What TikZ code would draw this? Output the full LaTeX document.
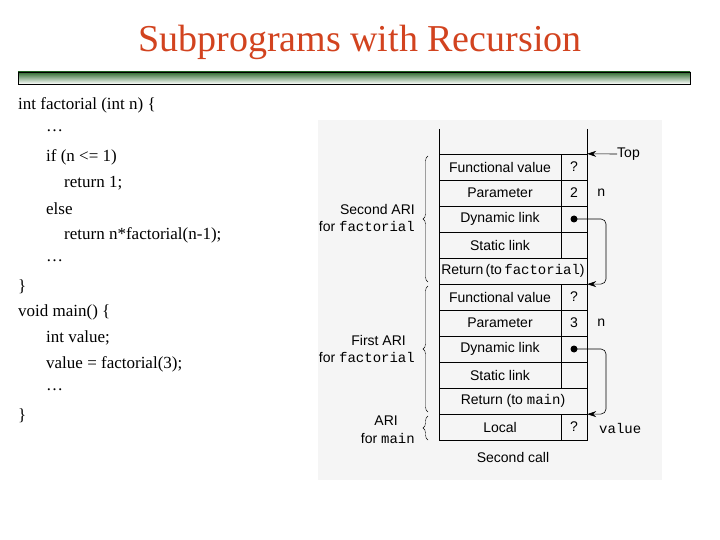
\documentclass[tikz,border=0pt]{standalone}
\usepackage{fontspec}
\setmainfont{Liberation Serif}
\newfontfamily\lsans{Liberation Sans}
\newfontfamily\lmono{Liberation Mono}
\usetikzlibrary{decorations.pathreplacing,arrows.meta}
\definecolor{titlered}{HTML}{D2431F}
\definecolor{dkgreen}{HTML}{2E6B2E}
\begin{document}
\begin{tikzpicture}[x=1pt,y=-1pt,
  code/.style={anchor=west,font=\fontsize{17}{20}\selectfont,inner sep=0},
  lc/.style={draw,minimum width=122pt,minimum height=26pt,inner sep=0,font=\lsans\fontsize{14}{16}\selectfont},
  rc/.style={draw,minimum width=26pt,minimum height=26pt,inner sep=0,font=\lsans\fontsize{14}{16}\selectfont},
  wc/.style={draw,minimum width=148pt,minimum height=26pt,inner sep=0,font=\lsans\fontsize{14}{16}\selectfont},
  lab/.style={font=\lsans\fontsize{14}{16}\selectfont,inner sep=0},
  mono/.style={font=\lmono\fontsize{14}{16}\selectfont,inner sep=0},
  brc/.style={decorate,decoration={brace,amplitude=5pt}},
  arr/.style={semithick,-{Stealth[length=9pt,width=6pt]}}]
\useasboundingbox (0,0) rectangle (720,540);
\fill[white] (0,0) rectangle (720,540);
\node[font=\fontsize{38}{42}\selectfont,text=titlered] (title) at (360,42) {Subprograms with Recursion};
\shade[top color=dkgreen,bottom color=white] (18,72) rectangle (690,84);
\draw[black] (18,72) rectangle (690,84);
\node[code] (c1) at (18,105) {int factorial (int n) \{};
\node[code] (c2) at (46,131) {…};
\node[code] (c3) at (46,157) {if (n <= 1)};
\node[code] (c4) at (64,183) {return 1;};
\node[code] (c5) at (46,209) {else};
\node[code] (c6) at (64,235) {return n*factorial(n-1);};
\node[code] (c7) at (46,261) {…};
\node[code] (c8) at (18,287) {\}};
\node[code] (c9) at (18,312) {void main() \{};
\node[code] (c10) at (46,338) {int value;};
\node[code] (c11) at (46,364) {value = factorial(3);};
\node[code] (c12) at (46,390) {…};
\node[code] (c13) at (18,416) {\}};
% figure panel
\fill[black!4] (318,120) rectangle (662,480);
\draw (439,129) -- (439,154) (587,129) -- (587,154);
\node[lc] (f2) at (500,167) {Functional value}; \node[rc] (f2v) at (574,167) {?};
\node[lc] (p2) at (500,193) {Parameter}; \node[rc] (p2v) at (574,193) {2};
\node[lc] (d2) at (500,219) {Dynamic link}; \node[rc] (d2v) at (574,219) {};
\node[lc] (s2) at (500,245) {Static link}; \node[rc] (s2v) at (574,245) {};
\node[wc] (r2) at (513,271) {Return\,(to\,{\lmono factorial})};
\node[lc] (f1) at (500,297) {Functional value}; \node[rc] (f1v) at (574,297) {?};
\node[lc] (p1) at (500,323) {Parameter}; \node[rc] (p1v) at (574,323) {3};
\node[lc] (d1) at (500,349) {Dynamic link}; \node[rc] (d1v) at (574,349) {};
\node[lc] (s1) at (500,375) {Static link}; \node[rc] (s1v) at (574,375) {};
\node[wc] (r1) at (513,401) {Return (to {\lmono main})};
\node[lc] (lo) at (500,427) {Local}; \node[rc] (lov) at (574,427) {?};
\node[mono,anchor=west] (n2) at (597,193) {n};
\node[mono,anchor=west] (n1) at (597,323) {n};
\node[mono,anchor=west] (val) at (599,428) {value};
\node[lab,anchor=west] (top) at (617,154) {Top};
\draw[arr] (top.west) -- (f2v.north east);
\fill (d2v.center) circle (3.5pt);
\fill (d1v.center) circle (3.5pt);
\draw[arr,rounded corners=5pt] (d2v.center) -- (606,219) -- (606,284) -- (r2.south east);
\draw[arr,rounded corners=5pt] (d1v.center) -- (606,349) -- (606,414) -- (r1.south east);
\draw[brc] (428,282) -- (428,156);
\draw[brc] (428,412) -- (428,286);
\draw[brc] (428,440) -- (428,416);
\node[lab,anchor=east] (a2) at (415,209) {Second ARI};
\node[lab,anchor=east] (a2b) at (415,226) {for {\lmono factorial}};
\node[lab,anchor=east] (a1) at (406,340) {First ARI};
\node[lab,anchor=east] (a1b) at (415,357) {for {\lmono factorial}};
\node[lab,anchor=east] (a0) at (398,421) {ARI};
\node[lab,anchor=east] (a0b) at (415,438) {for {\lmono main}};
\node[lab] (sc) at (513,457) {Second call};
\end{tikzpicture}
\end{document}
